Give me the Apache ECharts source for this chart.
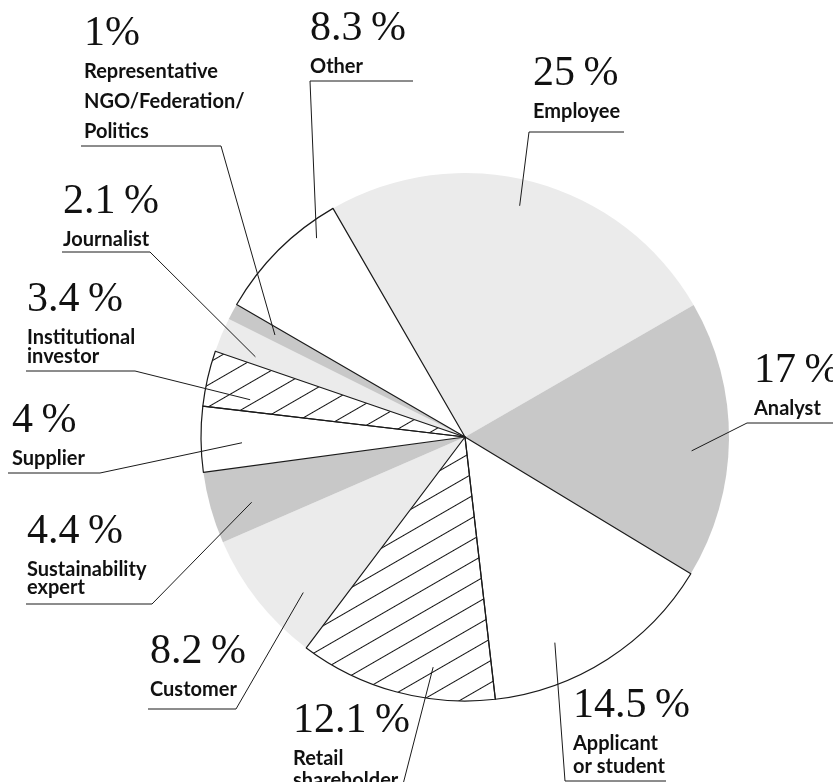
<!DOCTYPE html>
<html><head><meta charset="utf-8">
<script src="https://cdn.jsdelivr.net/npm/echarts@6/dist/echarts.min.js"></script>
<style>html,body{margin:0;padding:0;background:#fff}#c{width:833px;height:782px}</style>
</head><body><div id="c"></div>
<script>
// ---- data ----
const categories = ['Employee','Analyst','Applicant or student','Retail shareholder','Customer','Sustainability expert','Supplier','Institutional investor','Journalist','Representative NGO/Federation/Politics','Other'];
const values = [25, 17, 14.5, 12.1, 8.2, 4.4, 4, 3.4, 2.1, 1, 8.3];
const valueLabels = ['25\u2009%','17\u2009%','14.5\u2009%','12.1\u2009%','8.2\u2009%','4.4\u2009%','4\u2009%','3.4\u2009%','2.1\u2009%','1%','8.3\u2009%'];
const nameLines = [['Employee'],['Analyst'],['Applicant','or student'],['Retail','shareholder'],['Customer'],['Sustainability','expert'],['Supplier'],['Institutional','investor'],['Journalist'],['Representative','NGO/Federation/','Politics'],['Other']];
const fillKinds = ['light','mid','white','hatch','light','mid','white','hatch','light','mid','white'];

// ---- layout / style (not data) ----
const CENTER = [465, 437];
const R = 264;
const START = 120;
const fills = { light: '#ebebeb', mid: '#c8c8c8', white: '#ffffff', hatch: '#ffffff' };
const INK = '#1a1a1a';
// label placement: x, T (top of number glyphs), lh (name line height), side (junction end), underline x1,x2,y, anchor angle offset (deg), anchor radius fraction
const labelPlace = [
  {x:533, T:60,  lh:20, side:'R', ux1:529, ux2:624, uy:132, da:-1.7, rf:0.90},
  {x:754, T:357, lh:20, side:'R', ux1:747, ux2:833, uy:423, da:2.9,  rf:0.86},
  {x:573, T:692, lh:23, side:'R', ux1:565, ux2:666, uy:781, da:9.1,  rf:0.85},
  {x:293, T:707, lh:22, side:'L', ux1:290, ux2:400, uy:796, da:-7.3, rf:0.88},
  {x:150, T:638, lh:20, side:'L', ux1:148, ux2:236, uy:709, da:-5.6, rf:0.85},
  {x:27,  T:518, lh:18, side:'L', ux1:26,  ux2:152, uy:604, da:-1.4, rf:0.845},
  {x:12,  T:407, lh:20, side:'L', ux1:8,   ux2:100, uy:473, da:-1.0, rf:0.845},
  {x:27,  T:286, lh:19, side:'L', ux1:26,  ux2:135, uy:371, da:-3.0, rf:0.826},
  {x:63,  T:188, lh:20, side:'L', ux1:62,  ux2:150, uy:252, da:-1.8, rf:0.85},
  {x:84,  T:20,  lh:30, side:'L', ux1:81,  ux2:221, uy:146, da:-0.1, rf:0.817},
  {x:310, T:15,  lh:20, side:'R', ux1:310, ux2:413, uy:81,  da:8.2,  rf:0.94}
];
const NUM_FONT = 42, NAME_FONT = 20;

const hatchDecal = {
  symbol: 'rect', symbolSize: 1, symbolKeepAspect: false,
  color: '#111', backgroundColor: null,
  dashArrayX: [[20, 0]], dashArrayY: [1, 18],
  rotation: -Math.PI / 6
};

const rich = {};
labelPlace.forEach(p => {
  rich['v' + p.lh] = { fontFamily: 'Liberation Serif', fontSize: NUM_FONT, lineHeight: 74 - p.lh, color: '#111' };
  rich['n' + p.lh] = { fontFamily: 'Lato', fontWeight: 'bold', fontSize: NAME_FONT, lineHeight: p.lh, color: '#111' };
});

const fillData = categories.map((c, i) => ({
  name: c, value: values[i],
  itemStyle: Object.assign({ color: fills[fillKinds[i]], borderWidth: 0 }, fillKinds[i] === 'hatch' ? { decal: hatchDecal } : {})
}));
const outlineData = categories.map((c, i) => ({
  name: c, value: values[i],
  itemStyle: {
    color: 'rgba(0,0,0,0)',
    borderColor: (fillKinds[i] === 'white' || fillKinds[i] === 'hatch') ? INK : 'rgba(0,0,0,0)',
    borderWidth: (fillKinds[i] === 'white' || fillKinds[i] === 'hatch') ? 1.2 : 0
  }
}));

// mid-angle fallback from values
const total = values.reduce((a, b) => a + b, 0);
function midAngle(i) {
  let acc = 0; for (let k = 0; k < i; k++) acc += values[k];
  const deg = START - (acc + values[i] / 2) / total * 360;
  return -deg * Math.PI / 180;
}

const chart = echarts.init(document.getElementById('c'), null, { renderer: 'canvas' });
chart.setOption({
  animation: false,
  backgroundColor: '#ffffff',
  series: [
    {
      type: 'pie', silent: true, z: 2,
      center: CENTER, radius: R, startAngle: START, clockwise: true,
      label: { show: false }, labelLine: { show: false },
      emphasis: { disabled: true },
      data: fillData
    },
    {
      type: 'pie', silent: true, z: 3,
      center: CENTER, radius: R, startAngle: START, clockwise: true,
      avoidLabelOverlap: false,
      emphasis: { disabled: true },
      label: {
        show: true, position: 'outside', overflow: 'none', alignTo: 'none',
        formatter: p => {
          const L = labelPlace[p.dataIndex];
          return '{v' + L.lh + '|' + valueLabels[p.dataIndex] + '}\n' +
            nameLines[p.dataIndex].map(n => '{n' + L.lh + '|' + n + '}').join('\n');
        },
        rich: rich
      },
      labelLine: { show: true, length: 10, length2: 10, smooth: false, lineStyle: { color: INK, width: 1 } },
      labelLayout: function (p) {
        const i = p.dataIndex, L = labelPlace[i];
        let a;
        if (p.labelLinePoints && p.labelLinePoints[0]) {
          a = Math.atan2(p.labelLinePoints[0][1] - CENTER[1], p.labelLinePoints[0][0] - CENTER[0]);
        } else {
          a = midAngle(i);
        }
        a += L.da * Math.PI / 180;
        const r = R * L.rf;
        const anchor = [CENTER[0] + r * Math.cos(a), CENTER[1] + r * Math.sin(a)];
        const jx = L.side === 'L' ? L.ux2 : L.ux1;
        const ex = L.side === 'L' ? L.ux1 : L.ux2;
        const LV = 74 - L.lh;
        return {
          x: L.x, y: L.T - LV / 2 + 14.2,
          align: 'left', verticalAlign: 'top',
          labelLinePoints: [anchor, [jx, L.uy], [ex, L.uy]]
        };
      },
      data: outlineData
    }
  ]
});
</script></body></html>
